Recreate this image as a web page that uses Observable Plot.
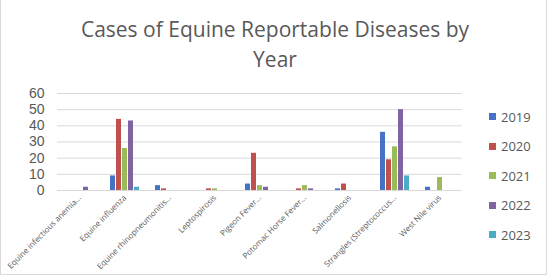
<!DOCTYPE html>
<html>
<head>
<meta charset="utf-8">
<script src="https://cdn.jsdelivr.net/npm/d3@7"></script>
<script src="https://cdn.jsdelivr.net/npm/@observablehq/plot@0.6"></script>
<style>
  html, body { margin: 0; padding: 0; background: #fff; }
  #wrap { position: relative; width: 550px; height: 279px; overflow: hidden; font-family: "Open Sans", sans-serif; }
  #frame { position: absolute; left: 0; top: -2px; width: 547px; height: 277px; border-left: 1px solid #d9d9d9; border-right: 1px solid #d9d9d9; border-bottom: 1px solid #d9d9d9; box-sizing: border-box; pointer-events: none; }
  #title { position: absolute; left: 0; width: 550px; top: 14px; text-align: center; color: #595959; font-size: 21px; line-height: 30px; font-weight: 400; }
  #chart { position: absolute; left: 0; top: 0; }
  #legend { position: absolute; left: 489px; top: 102px; }
  .li { display: flex; align-items: center; height: 29.5px; color: #595959; font-size: 13px; }
  .sw { width: 7px; height: 7px; margin-right: 5px; }
  .yax text { font-family: "Liberation Sans", Arial, sans-serif; }
</style>
</head>
<body>
<div id="wrap">
  <div id="chart"></div>
  <div id="title">Cases of Equine Reportable Diseases by<br>Year</div>
  <div id="legend"></div>
  <div id="frame"></div>
</div>
<script>
const diseases = [
  "Equine infectious anemia...",
  "Equine influenza",
  "Equine rhinopneumonitis...",
  "Leptospirosis",
  "Pigeon Fever...",
  "Potomac Horse Fever...",
  "Salmonellosis",
  "Strangles (Streptococcus...",
  "West Nile virus"
];
const years = ["2019", "2020", "2021", "2022", "2023"];
const colors = ["#4472C4", "#C0504D", "#9BBB59", "#8064A2", "#4BACC6"];
const v2019 = [0, 9, 3, 0, 4, 0, 1, 36, 2];
const v2020 = [0, 44, 1, 1, 23, 1, 4, 19, 0];
const v2021 = [0, 26, 0, 1, 3, 3, 0, 27, 8];
const v2022 = [2, 43, 0, 0, 2, 1, 0, 50, 0];
const v2023 = [0, 2, 0, 0, 0, 0, 0, 9, 0];
const yTicks = [0, 10, 20, 30, 40, 50, 60];

const series = [v2019, v2020, v2021, v2022, v2023];
const data = [];
diseases.forEach((d, i) => {
  years.forEach((y, j) => {
    data.push({disease: d, year: y, value: series[j][i]});
  });
});

const chart = Plot.plot({
  width: 550,
  height: 279,
  marginLeft: 56,
  marginRight: 88,
  marginTop: 93,
  marginBottom: 89,
  style: {fontFamily: "Open Sans, sans-serif", color: "#595959", background: "transparent"},
  fx: {domain: diseases, padding: 0, label: null, paddingOuter: 0},
  x: {domain: years, paddingInner: 0.15, paddingOuter: 0.8, axis: null},
  y: {domain: [0, 60], ticks: yTicks, label: null},
  color: {domain: years, range: colors},
  marks: [
    Plot.ruleY(yTicks, {stroke: "#d9d9d9", strokeOpacity: 1}),
    Plot.barY(data, {fx: "disease", x: "year", y: "value", fill: "year"}),
    Plot.axisY({ticks: yTicks, tickSize: 0, tickPadding: 13, fontSize: 14, label: null, fill: "#595959", className: "yax"}),
    Plot.axisFx({tickSize: 0, tickRotate: -45, fontSize: 8, tickPadding: 6, label: null, fill: "#595959", anchor: "bottom", textAnchor: "end"})
  ]
});
document.getElementById("chart").appendChild(chart);

const leg = document.getElementById("legend");
years.forEach((y, j) => {
  const row = document.createElement("div");
  row.className = "li";
  row.innerHTML = `<span class="sw" style="background:${colors[j]}"></span><span>${y}</span>`;
  leg.appendChild(row);
});
</script>
</body>
</html>
